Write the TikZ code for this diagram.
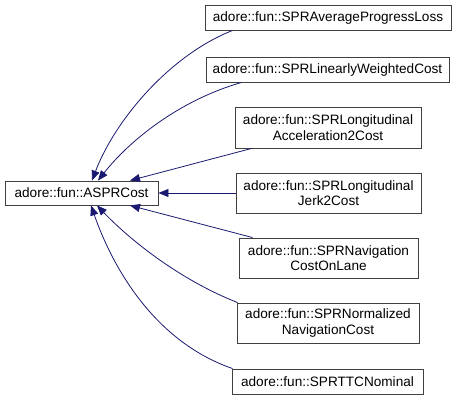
\documentclass[tikz,border=0pt]{standalone}
\usepackage{fontspec}
\setmainfont{Liberation Sans}
\usetikzlibrary{arrows.meta}
\definecolor{edgeblue}{HTML}{191970}
\begin{document}
\begin{tikzpicture}[
x=1pt, y=-1pt,
cls/.style={draw=black!75, line width=0.9pt, fill=white, align=center, inner sep=0pt,
  font=\fontsize{13.6}{15.5}\selectfont},
inh/.style={draw=edgeblue, line width=0.8pt, -{Triangle[length=10pt,width=8pt]}}
]
\useasboundingbox (0,0) rectangle (456,401);
\node[cls, minimum width=153pt, minimum height=24pt] (base) at (81.5,193) {adore::fun::ASPRCost};
\node[cls, minimum width=246pt, minimum height=25pt] (avg) at (328,17.5) {adore::fun::SPRAverageProgressLoss};
\node[cls, minimum width=243pt, minimum height=25pt] (lin) at (327.5,69.5) {adore::fun::SPRLinearlyWeightedCost};
\node[cls, minimum width=186pt, minimum height=41pt] (acc) at (328,127.5) {adore::fun::SPRLongitudinal\\Acceleration2Cost};
\node[cls, minimum width=185pt, minimum height=40pt] (jerk) at (328.5,193) {adore::fun::SPRLongitudinal\\Jerk2Cost};
\node[cls, minimum width=179pt, minimum height=40pt] (nav) at (328.5,258) {adore::fun::SPRNavigation\\CostOnLane};
\node[cls, minimum width=182pt, minimum height=40pt] (norm) at (328,323) {adore::fun::SPRNormalized\\NavigationCost};
\node[cls, minimum width=191pt, minimum height=25pt] (ttc) at (327.5,381.5) {adore::fun::SPRTTCNominal};
% inheritance edges
\draw[inh] ([xshift=28pt]avg.south west) .. controls (170,55) and (115,120) .. ([xshift=10.5pt]base.north);
\draw[inh] ([xshift=36pt]lin.south west) .. controls (180,100) and (130,140) .. ([xshift=16.5pt]base.north);
\draw[inh] ([xshift=17pt]acc.south west) -- ([xshift=48.5pt]base.north);
\draw[inh] (jerk.west) -- (base.east);
\draw[inh] ([xshift=14pt]nav.north west) -- ([xshift=48.5pt]base.south);
\draw[inh] ([xshift=1pt]norm.north west) .. controls (180,280) and (130,240) .. ([xshift=15.5pt]base.south);
\draw[inh] ([xshift=1pt]ttc.north west) .. controls (150,340) and (110,260) .. ([xshift=9.5pt]base.south);
\end{tikzpicture}
\end{document}
